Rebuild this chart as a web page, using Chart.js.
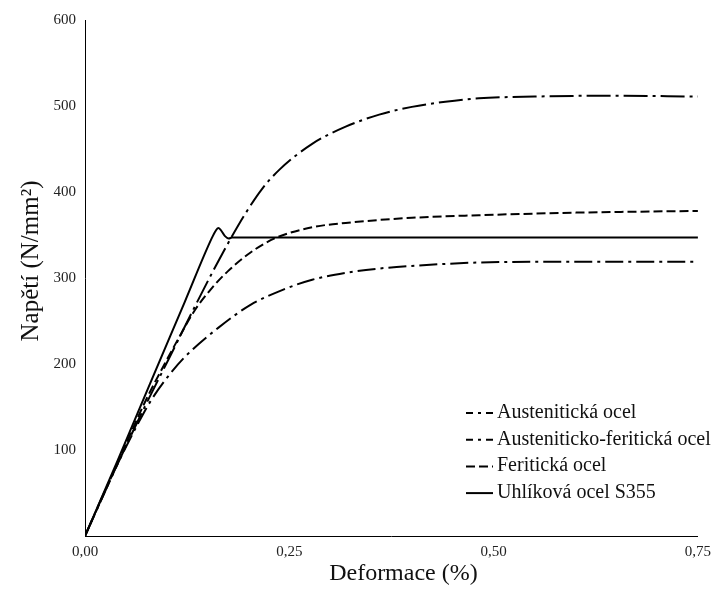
<!DOCTYPE html>
<html>
<head>
<meta charset="utf-8">
<script src="https://cdn.jsdelivr.net/npm/chart.js"></script>
<style>
  body { margin: 0; background: #fff; }
  #wrap { width: 718px; height: 589px; }
</style>
</head>
<body>
<div id="wrap"><canvas id="stressChart" width="718" height="589"></canvas></div>
<script>
// --- data ---
const austenitickaX = [0, 0.02, 0.04, 0.065, 0.081, 0.102, 0.122, 0.163, 0.203, 0.244, 0.278, 0.319, 0.36, 0.4, 0.482, 0.6, 0.75];
const austenitickaY = [0, 43, 84, 131, 158, 186, 208, 242, 269, 287, 298, 306, 311, 314, 318, 319, 319];

const duplexX = [0, 0.04, 0.073, 0.102, 0.134, 0.16, 0.179, 0.197, 0.217, 0.238, 0.278, 0.319, 0.36, 0.4, 0.441, 0.482, 0.55, 0.65, 0.75];
const duplexY = [0, 84, 150, 205, 266, 314, 347, 376, 404, 426, 456, 476, 490, 499, 505, 509, 511, 512, 511];

const feritickaX = [0, 0.04, 0.073, 0.094, 0.114, 0.134, 0.155, 0.175, 0.203, 0.232, 0.278, 0.319, 0.4, 0.482, 0.6, 0.75];
const feritickaY = [0, 85, 155, 194, 229, 262, 288, 308, 330, 346, 359, 364, 370, 373, 376, 378];

const uhlikovaX = [0, 0.04, 0.08, 0.122, 0.155, 0.16, 0.163, 0.166, 0.171, 0.176, 0.18, 0.75];
const uhlikovaY = [0, 88, 178, 272, 346, 355, 358, 356, 349, 346, 347, 347];

const seriesLabels = ["Austenitická ocel", "Austeniticko-feritická ocel", "Feritická ocel", "Uhlíková ocel S355"];
const xTicks = [0, 0.25, 0.5, 0.75];
const yTicks = [0, 100, 200, 300, 400, 500, 600];
const xTitle = "Deformace (%)";
const yTitle = "Napětí (N/mm²)";

const SERIF = '"Liberation Serif", "Times New Roman", serif';

function toPoints(xs, ys) {
    return xs.map((x, i) => ({ x: x, y: ys[i] }));
}

function lineSet(label, xs, ys, dash) {
    return {
        label: label,
        data: toPoints(xs, ys),
        borderColor: "#000",
        borderWidth: 2,
        borderDash: dash,
        pointRadius: 0,
        fill: false,
        cubicInterpolationMode: "monotone"
    };
}

// axis titles, placed a bit off-centre like the original
const axisTitles = {
    id: "axisTitles",
    afterDraw(chart) {
        const ctx = chart.ctx;
        const area = chart.chartArea;
        ctx.save();
        ctx.fillStyle = "#111";
        ctx.textAlign = "center";
        ctx.textBaseline = "middle";

        ctx.font = "24px " + SERIF;
        ctx.fillText(xTitle, (area.left + area.right) / 2 + 12, 574);

        ctx.translate(31, 261);
        ctx.rotate(-Math.PI / 2);
        ctx.font = "25px " + SERIF;
        ctx.fillText(yTitle, 0, 0);
        ctx.restore();
    }
};

// legend drawn inside the plot, bottom right
const legendInPlot = {
    id: "legendInPlot",
    afterDraw(chart) {
        const ctx = chart.ctx;
        const x0 = 466, w = 27, top = 413, row = 26.7;
        chart.data.datasets.forEach((ds, i) => {
            const y = top + i * row;
            const dash = ds.borderDash || [];
            ctx.save();
            ctx.strokeStyle = ds.borderColor;
            ctx.lineWidth = ds.borderWidth;
            ctx.setLineDash(dash);
            if (dash.length === 4) {
                ctx.lineDashOffset = dash[0] - (w - dash[1] - dash[2] - dash[3]) / 2;
            }
            ctx.beginPath();
            ctx.moveTo(x0, y);
            ctx.lineTo(x0 + w, y);
            ctx.stroke();
            ctx.setLineDash([]);
            ctx.fillStyle = "#111";
            ctx.font = "20px " + SERIF;
            ctx.textBaseline = "alphabetic";
            ctx.fillText(ds.label, x0 + w + 4, y + 5);
            ctx.restore();
        });
    }
};

const canvas = document.getElementById("stressChart");
new Chart(canvas, {
    type: "line",
    data: {
        datasets: [
            lineSet(seriesLabels[0], austenitickaX, austenitickaY, [18, 5, 3, 5]),
            lineSet(seriesLabels[1], duplexX, duplexY, [24, 5, 3, 5]),
            lineSet(seriesLabels[2], feritickaX, feritickaY, [9, 4]),
            lineSet(seriesLabels[3], uhlikovaX, uhlikovaY, [])
        ]
    },
    options: {
        responsive: false,
        animation: false,
        layout: { padding: { top: 20, right: 18, bottom: 0, left: 0 } },
        plugins: {
            legend: { display: false },
            tooltip: { enabled: false }
        },
        scales: {
            x: {
                type: "linear",
                min: xTicks[0],
                max: xTicks[xTicks.length - 1],
                afterFit: (scale) => { scale.height = 53; },
                afterBuildTicks: (scale) => { scale.ticks = xTicks.map(v => ({ value: v })); },
                grid: { display: false, drawTicks: false },
                border: { display: true, color: "#000", width: 1 },
                ticks: {
                    padding: 7,
                    color: "#222",
                    font: { family: SERIF, size: 15 },
                    maxRotation: 0,
                    autoSkip: false,
                    callback: (v) => v.toFixed(2).replace(".", ",")
                }
            },
            y: {
                min: yTicks[0],
                max: yTicks[yTicks.length - 1],
                afterFit: (scale) => { scale.width = 85; },
                afterBuildTicks: (scale) => { scale.ticks = yTicks.map(v => ({ value: v })); },
                grid: { display: false, drawTicks: false },
                border: { display: true, color: "#000", width: 1 },
                ticks: {
                    padding: 9,
                    color: "#222",
                    font: { family: SERIF, size: 15 },
                    callback: (v) => (v === 0 ? "" : String(v))
                }
            }
        }
    },
    plugins: [axisTitles, legendInPlot]
});
</script>
</body>
</html>
